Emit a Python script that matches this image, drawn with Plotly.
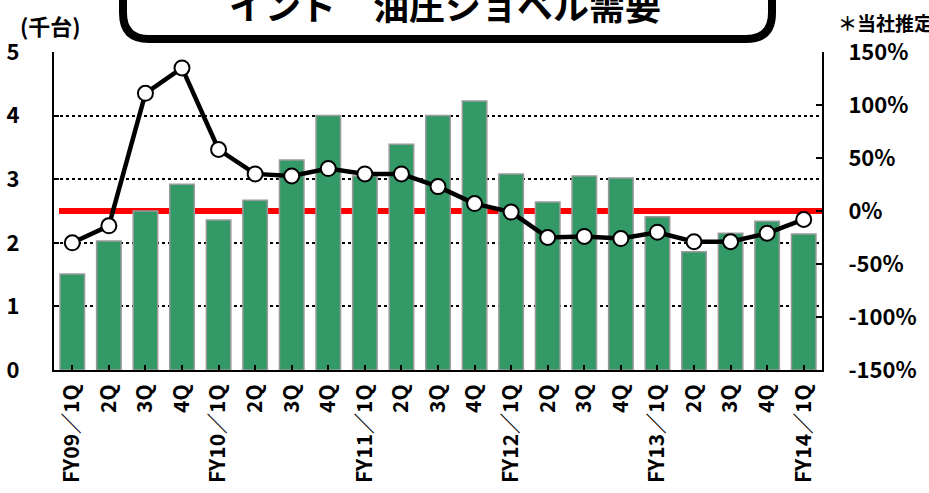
import plotly.graph_objects as go

categories = ["FY09／1Q", "2Q", "3Q", "4Q", "FY10／1Q", "2Q", "3Q", "4Q",
              "FY11／1Q", "2Q", "3Q", "4Q", "FY12／1Q", "2Q", "3Q", "4Q",
              "FY13／1Q", "2Q", "3Q", "4Q", "FY14／1Q"]
demand = [1.51, 2.03, 2.50, 2.92, 2.36, 2.67, 3.30, 4.00,
          3.05, 3.55, 4.00, 4.23, 3.08, 2.64, 3.05, 3.02,
          2.41, 1.86, 2.15, 2.34, 2.14]
yoy = [-30, -14, 111, 135, 58, 35, 33, 40,
       35, 35, 23, 7, -1, -25, -24, -26,
       -20, -29, -29, -21, -8]
left_ticks = [0, 1, 2, 3, 4, 5]
right_ticks = [-150, -100, -50, 0, 50, 100, 150]

W, H = 929, 493
L, R, T, B = 54, 822, 52, 370
FONT = "Noto Sans CJK JP"

def px(x):
    return (x - L) / (R - L)

def py(y):
    return (B - y) / (B - T)

xs = list(range(len(categories)))

fig = go.Figure()
fig.add_trace(go.Bar(
    x=xs, y=demand, yaxis="y",
    marker=dict(color="#339966", line=dict(color="#9a9a9a", width=1.5)),
    width=0.67,
))
fig.add_trace(go.Scatter(
    x=xs, y=yoy, yaxis="y2", mode="lines+markers",
    line=dict(color="black", width=4.5),
    marker=dict(size=15, color="white", line=dict(color="black", width=2)),
))

# red 0% line
fig.add_shape(type="line", xref="paper", yref="y2", x0=px(59), x1=1, y0=0, y1=0,
              line=dict(color="#ff0000", width=6), layer="below")

# rounded title box
bx0, bx1, by0, by1, r = 123, 772, -30, 39, 26
path = (f"M {px(bx0)},{py(by0)} L {px(bx0)},{py(by1 - r)} "
        f"Q {px(bx0)},{py(by1)} {px(bx0 + r)},{py(by1)} "
        f"L {px(bx1 - r)},{py(by1)} "
        f"Q {px(bx1)},{py(by1)} {px(bx1)},{py(by1 - r)} "
        f"L {px(bx1)},{py(by0)}")
fig.add_shape(type="path", xref="paper", yref="paper", path=path,
              line=dict(color="black", width=8), fillcolor="rgba(0,0,0,0)")

fig.add_annotation(xref="paper", yref="paper", x=px(445), y=py(4), text="インド　油圧ショベル需要",
                   showarrow=False, xanchor="center", yanchor="middle",
                   font=dict(family=FONT, size=36, color="black", weight="bold"))
fig.add_annotation(xref="paper", yref="paper", x=px(50), y=py(25), text="(千台)",
                   showarrow=False, xanchor="center", yanchor="middle",
                   font=dict(family=FONT, size=22, color="black", weight="bold"))
fig.add_annotation(xref="paper", yref="paper", x=px(836), y=py(23), text="＊当社推定",
                   showarrow=False, xanchor="left", yanchor="middle",
                   font=dict(family=FONT, size=19, color="black", weight="bold"))

tickfont = dict(family=FONT, size=22, color="black", weight="bold")
xtickfont = dict(family=FONT, size=21, color="black", weight="bold")

fig.update_layout(
    width=W, height=H,
    margin=dict(l=L, r=W - R, t=T, b=H - B, pad=0),
    paper_bgcolor="white", plot_bgcolor="white",
    showlegend=False,
    bargap=0.33,
    xaxis=dict(
        range=[-0.5, len(categories) - 0.5],
        tickmode="array", tickvals=xs, ticktext=categories,
        tickangle=-90, tickfont=xtickfont,
        showline=True, linecolor="black", linewidth=2,
        ticks="inside", tickson="boundaries", ticklen=5, tickcolor="black", tickwidth=1.5,
        showgrid=False, zeroline=False,
        ticklabelstandoff=4, automargin=False,
    ),
    yaxis=dict(
        range=[0, 5], tickmode="array", tickvals=left_ticks,
        tickfont=tickfont,
        showline=True, linecolor="black", linewidth=2,
        ticks="inside", ticklen=5, tickcolor="black", tickwidth=1.5,
        showgrid=True, gridcolor="black", gridwidth=2, griddash="dot",
        zeroline=False,
        ticklabelstandoff=28, automargin=False,
    ),
    yaxis2=dict(
        range=[-150, 150], tickmode="array", tickvals=right_ticks,
        ticktext=[f"{v}%" if v >= 0 else f"-{abs(v)}%" for v in right_ticks],
        overlaying="y", side="right", anchor="x",
        tickfont=tickfont,
        showline=True, linecolor="black", linewidth=2,
        ticks="inside", ticklen=6, tickcolor="black", tickwidth=1.5,
        showgrid=False, zeroline=False,
        ticklabelstandoff=20, automargin=False,
    ),
)

fig.write_html("out.html",
               config={"displayModeBar": False},
               post_script="document.body.style.margin='0';document.body.style.padding='0';")
